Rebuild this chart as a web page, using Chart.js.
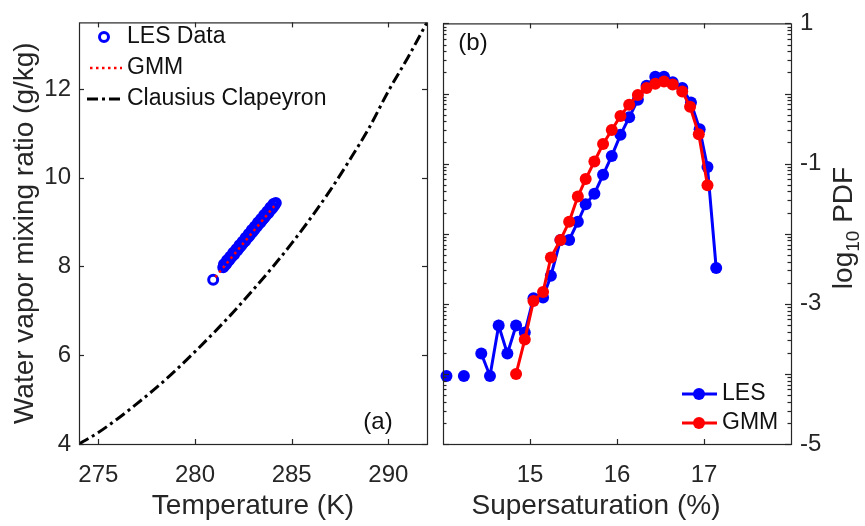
<!DOCTYPE html>
<html>
<head>
<meta charset="utf-8">
<script src="https://cdn.jsdelivr.net/npm/chart.js@4.4.1/dist/chart.umd.min.js"></script>
<style>
  html, body { margin: 0; padding: 0; background: #fff; }
  #wrap { position: relative; width: 865px; height: 526px; }
  #wrap canvas { position: absolute; top: 0; }
</style>
</head>
<body>
<div id="wrap">
  <canvas id="chartA" width="435" height="526" style="left:0px"></canvas>
  <canvas id="chartB" width="430" height="526" style="left:435px"></canvas>
</div>
<script>
// panel (a): temperature vs mixing ratio
const tempTicks = [275, 280, 285, 290];
const mixTicks = [4, 6, 8, 10, 12];

const ccTemp = [274, 275, 276, 277, 278, 279, 280, 281, 282, 283, 284, 285, 286, 287, 288, 289, 290, 291, 292];
const ccMix = [4.00, 4.26, 4.57, 4.91, 5.27, 5.66, 6.08, 6.52, 6.98, 7.47, 7.98, 8.52, 9.10, 9.72, 10.40, 11.12, 11.95, 12.70, 13.50];

const lesTemp = [280.94, 281.46, 281.54, 281.62, 281.70, 281.78, 281.86, 281.94, 282.02, 282.10, 282.18,
  282.26, 282.34, 282.42, 282.50, 282.58, 282.66, 282.74, 282.82, 282.90, 282.98, 283.06, 283.14,
  283.22, 283.30, 283.38, 283.46, 283.54, 283.62, 283.70, 283.78, 283.86, 283.94, 284.02, 284.10, 284.18,
  281.50, 281.66, 281.82, 281.98, 282.14, 282.30, 282.46, 282.62, 282.78, 282.94, 283.10, 283.26,
  283.42, 283.58, 283.74, 283.90, 284.06];
const lesMix = [7.70, 7.98, 8.03, 8.06, 8.12, 8.15, 8.20, 8.24, 8.27, 8.33, 8.36,
  8.41, 8.45, 8.49, 8.54, 8.57, 8.62, 8.66, 8.70, 8.75, 8.78, 8.83, 8.87,
  8.91, 8.96, 8.99, 9.04, 9.08, 9.12, 9.17, 9.20, 9.25, 9.29, 9.33, 9.38, 9.43,
  8.05, 8.14, 8.22, 8.31, 8.39, 8.48, 8.56, 8.65, 8.73, 8.82, 8.90, 8.99,
  9.07, 9.16, 9.24, 9.33, 9.41];

const gmmTemp = [281.05, 284.10];
const gmmMix = [7.76, 9.36];

// panel (b): supersaturation pdf, log10
const ssTicks = [15, 16, 17];
const logTicks = [-5, -3, -1, 1];

const lesSs = [14.04, 14.14, 14.24, 14.34, 14.44, 14.54, 14.64, 14.74, 14.84, 14.94, 15.04, 15.15, 15.24, 15.35, 15.45, 15.55,
  15.64, 15.74, 15.84, 15.94, 16.04, 16.14, 16.24, 16.34, 16.44, 16.54, 16.64, 16.75, 16.85, 16.95, 17.04, 17.14];
const lesLogPdf = [-4.03, null, -4.03, null, -3.71, -4.03, -3.31, -3.71, -3.31, -3.41, -2.92, -2.91, -2.60, -2.09, -2.09, -1.83,
  -1.58, -1.43, -1.16, -0.89, -0.59, -0.34, -0.09, 0.11, 0.24, 0.24, 0.16, 0.08, -0.13, -0.51, -1.05, -2.49];

const gmmSs = [14.84, 14.94, 15.04, 15.15, 15.24, 15.35, 15.45, 15.55, 15.64, 15.74, 15.84, 15.94,
  16.04, 16.14, 16.24, 16.34, 16.44, 16.54, 16.64, 16.75, 16.84, 16.94, 17.04];
const gmmLogPdf = [-4.00, -3.51, -2.96, -2.83, -2.34, -2.09, -1.83, -1.47, -1.22, -0.97, -0.72, -0.52,
  -0.32, -0.16, -0.02, 0.08, 0.14, 0.17, 0.13, 0.03, -0.19, -0.58, -1.31];

const ink = '#262626';
const fontFam = '"Liberation Sans", Arial, Helvetica, sans-serif';
Chart.defaults.font.family = fontFam;
Chart.defaults.color = ink;

const pts = (xs, ys) => xs.map((x, i) => ({ x: x, y: ys[i] }));
const fixTicks = vals => scale => { scale.ticks = vals.map(v => ({ value: v })); };

function seg(ctx, x1, y1, x2, y2) {
  ctx.beginPath(); ctx.moveTo(x1, y1); ctx.lineTo(x2, y2); ctx.stroke();
}

// inward ticks on all four sides + box
function drawFrame(chart, yId, isLog) {
  const ctx = chart.ctx, a = chart.chartArea;
  ctx.save();
  ctx.strokeStyle = ink;
  ctx.lineWidth = 1.2;
  const xs = chart.scales.x;
  xs.ticks.forEach(t => {
    const px = Math.round(xs.getPixelForValue(t.value)) + 0.5;
    seg(ctx, px, a.bottom, px, a.bottom - 5);
    seg(ctx, px, a.top, px, a.top + 5);
  });
  const ys = chart.scales[yId];
  ys.ticks.forEach(t => {
    const py = Math.round(ys.getPixelForValue(t.value)) + 0.5;
    let len = 5;
    if (isLog) {
      const e = Math.log10(t.value);
      len = Math.abs(e - Math.round(e)) < 1e-6 ? 6 : 3.5;
    }
    seg(ctx, a.left, py, a.left + len, py);
    seg(ctx, a.right, py, a.right - len, py);
  });
  ctx.strokeRect(a.left + 0.5, a.top + 0.5, a.right - a.left, a.bottom - a.top);
  ctx.restore();
}

const panelA = {
  id: 'panelA',
  afterDraw(chart) {
    drawFrame(chart, 'y', false);
    const ctx = chart.ctx;
    const ds = chart.data.datasets;
    ctx.save();
    // legend
    ctx.strokeStyle = ds[0].pointBorderColor;
    ctx.lineWidth = ds[0].pointBorderWidth;
    ctx.beginPath(); ctx.arc(104, 37, ds[0].pointRadius, 0, Math.PI * 2); ctx.stroke();
    ctx.strokeStyle = ds[1].borderColor; ctx.lineWidth = ds[1].borderWidth;
    ctx.setLineDash(ds[1].borderDash);
    seg(ctx, 90, 68, 122, 68);
    ctx.strokeStyle = ds[2].borderColor; ctx.lineWidth = ds[2].borderWidth;
    ctx.setLineDash(ds[2].borderDash);
    seg(ctx, 87, 99, 122, 99);
    ctx.setLineDash([]);
    ctx.fillStyle = '#111';
    ctx.font = '23px ' + fontFam;
    ctx.textBaseline = 'middle';
    ctx.textAlign = 'left';
    ctx.fillText(ds[0].label, 127, 37);
    ctx.fillText(ds[1].label, 127, 68);
    ctx.fillText(ds[2].label, 127, 99);
    // panel tag
    ctx.font = '24px ' + fontFam;
    ctx.textAlign = 'center';
    ctx.fillText('(a)', 378, 422);
    ctx.restore();
  }
};

const panelB = {
  id: 'panelB',
  afterDraw(chart) {
    drawFrame(chart, 'yl', true);
    const ctx = chart.ctx;
    const ds = chart.data.datasets;
    ctx.save();
    // legend
    [[0, 394], [1, 423]].forEach(([i, y]) => {
      ctx.strokeStyle = ds[i].borderColor; ctx.lineWidth = ds[i].borderWidth;
      seg(ctx, 247, y, 282, y);
      ctx.fillStyle = ds[i].pointBackgroundColor;
      ctx.beginPath(); ctx.arc(264, y, ds[i].pointRadius, 0, Math.PI * 2); ctx.fill();
    });
    ctx.fillStyle = '#111';
    ctx.font = '23px ' + fontFam;
    ctx.textBaseline = 'middle';
    ctx.textAlign = 'left';
    ctx.fillText(ds[0].label, 287, 394);
    ctx.fillText(ds[1].label, 287, 423);
    ctx.font = '24px ' + fontFam;
    ctx.textAlign = 'center';
    ctx.fillText('(b)', 38, 43);
    // x title
    ctx.fillStyle = ink;
    ctx.font = '28px ' + fontFam;
    ctx.fillText('Supersaturation (%)', 161, 506);
    // right title, reads bottom to top, with subscript
    const big = '28px ' + fontFam, small = '19px ' + fontFam;
    ctx.font = big; const w1 = ctx.measureText('log').width; const w3 = ctx.measureText(' PDF').width;
    ctx.font = small; const w2 = ctx.measureText('10').width;
    const total = w1 + w2 + w3;
    ctx.translate(407, 228);
    ctx.rotate(-Math.PI / 2);
    ctx.textAlign = 'left';
    ctx.textBaseline = 'alphabetic';
    let x0 = -total / 2;
    ctx.font = big; ctx.fillText('log', x0, 10);
    ctx.font = small; ctx.fillText('10', x0 + w1, 17);
    ctx.font = big; ctx.fillText(' PDF', x0 + w1 + w2, 10);
    ctx.restore();
  }
};

new Chart(document.getElementById('chartA'), {
  type: 'line',
  data: {
    datasets: [
      { label: 'LES Data', data: pts(lesTemp, lesMix), showLine: false, pointRadius: 4.5, pointBorderWidth: 3,
        pointBorderColor: '#0000ff', pointBackgroundColor: 'rgba(0,0,0,0)', borderColor: '#0000ff', order: 1 },
      { label: 'GMM', data: pts(gmmTemp, gmmMix), borderColor: '#ff0000', borderWidth: 2.5, borderDash: [2.5, 3.5],
        pointRadius: 0, order: 0 },
      { label: 'Clausius Clapeyron', data: pts(ccTemp, ccMix), borderColor: '#000000', borderWidth: 3,
        borderDash: [11, 4, 3, 4], pointRadius: 0, cubicInterpolationMode: 'monotone', order: 2 }
    ]
  },
  options: {
    responsive: false, animation: false, devicePixelRatio: 1,
    layout: { padding: { top: 13, right: 8, left: 0, bottom: 0 } },
    plugins: { legend: { display: false }, tooltip: { enabled: false } },
    scales: {
      x: {
        type: 'linear', min: 274, max: 292,
        afterBuildTicks: fixTicks(tempTicks),
        afterFit: s => { s.height = 82; },
        grid: { display: false, drawTicks: false }, border: { display: false },
        ticks: { font: { size: 24 }, color: ink, padding: 17, maxRotation: 0, autoSkip: false },
        title: { display: true, text: 'Temperature (K)', font: { size: 28 }, color: ink, padding: { top: 0, bottom: 3 } }
      },
      y: {
        type: 'linear', min: 4, max: 13.5,
        afterBuildTicks: fixTicks(mixTicks),
        afterFit: s => { s.width = 79; },
        grid: { display: false, drawTicks: false }, border: { display: false },
        ticks: { font: { size: 24 }, color: ink, padding: 8, autoSkip: false },
        title: { display: true, text: 'Water vapor mixing ratio (g/kg)', font: { size: 28 }, color: ink, padding: { top: 8, bottom: 0 } }
      }
    }
  },
  plugins: [panelA]
});

new Chart(document.getElementById('chartB'), {
  type: 'line',
  data: {
    datasets: [
      { label: 'LES', data: pts(lesSs, lesLogPdf), borderColor: '#0000ff', borderWidth: 3, pointRadius: 6,
        pointBorderWidth: 0, pointBackgroundColor: '#0000ff', spanGaps: false, clip: false, yAxisID: 'y', order: 1 },
      { label: 'GMM', data: pts(gmmSs, gmmLogPdf), borderColor: '#ff0000', borderWidth: 3, pointRadius: 6,
        pointBorderWidth: 0, pointBackgroundColor: '#ff0000', clip: false, yAxisID: 'y', order: 0 }
    ]
  },
  options: {
    responsive: false, animation: false, devicePixelRatio: 1,
    layout: { padding: { top: 13, right: 0, left: 8, bottom: 0 } },
    plugins: { legend: { display: false }, tooltip: { enabled: false } },
    scales: {
      x: {
        type: 'linear', min: 14, max: 18,
        afterBuildTicks: fixTicks(ssTicks),
        afterFit: s => { s.height = 82; },
        grid: { display: false, drawTicks: false }, border: { display: false },
        ticks: { font: { size: 24 }, color: ink, padding: 17, maxRotation: 0, autoSkip: false },
        title: { display: false }
      },
      y: {
        type: 'linear', position: 'right', min: -5, max: 1,
        afterBuildTicks: fixTicks(logTicks),
        afterFit: s => { s.width = 74; },
        grid: { display: false, drawTicks: false }, border: { display: false },
        ticks: { font: { size: 24 }, color: ink, padding: 9, autoSkip: false, callback: v => String(v) }
      },
      yl: {
        type: 'logarithmic', position: 'left', min: 1e-5, max: 10,
        afterBuildTicks: s => {
          s.ticks = s.ticks.filter(t => {
            const m = t.value / Math.pow(10, Math.floor(Math.log10(t.value) + 1e-9));
            return Math.abs(m - Math.round(m)) < 1e-6;
          });
        },
        afterFit: s => { s.width = 0; },
        grid: { display: false, drawTicks: false }, border: { display: false },
        ticks: { display: false }
      }
    }
  },
  plugins: [panelB]
});
</script>
</body>
</html>
